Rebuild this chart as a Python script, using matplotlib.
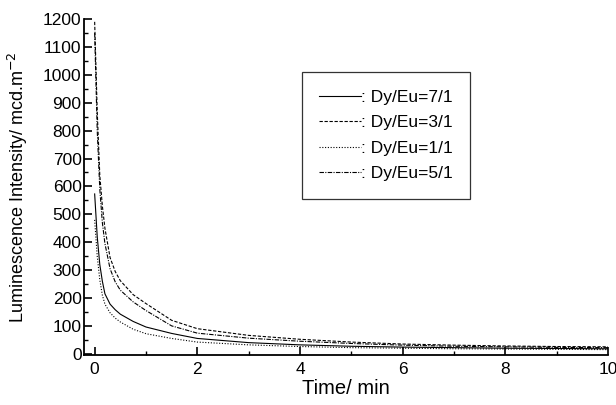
import matplotlib
matplotlib.use('Agg')
import matplotlib.pyplot as plt
from matplotlib.ticker import MultipleLocator

plt.rcParams['font.family'] = ['Liberation Sans', 'DejaVu Sans']

# decay time (min)
time = [0, 0.05, 0.1, 0.15, 0.2, 0.3, 0.4, 0.5, 0.75, 1, 1.5, 2,
        3, 4, 5, 6, 7, 8, 9, 10]

# luminescence intensity (mcd/m2)
dy_eu_7 = [573, 420, 320, 260, 215, 178, 158, 142, 116, 96, 73, 55,
           40, 32, 27, 24, 22, 20, 19, 18]
dy_eu_3 = [1190, 870, 640, 530, 450, 345, 295, 262, 212, 180, 120, 90,
           66, 52, 42, 35, 31, 28, 26, 25]
dy_eu_1 = [480, 350, 265, 210, 178, 147, 128, 114, 88, 72, 55, 42,
           32, 26, 22, 20, 18, 17, 16, 15]
dy_eu_5 = [1150, 800, 590, 470, 395, 305, 258, 228, 186, 155, 100, 74,
           56, 45, 37, 31, 27, 25, 23, 22]

labels = [': Dy/Eu=7/1', ': Dy/Eu=3/1', ': Dy/Eu=1/1', ': Dy/Eu=5/1']

fig = plt.figure(figsize=(6.16, 4.05), dpi=100)
ax = fig.add_axes([0.137, 0.123, 0.85, 0.830])

lw = 0.8
ax.plot(time, dy_eu_7, color='black', lw=lw, ls='-', label=labels[0])
ax.plot(time, dy_eu_3, color='black', lw=lw, ls=(0, (3, 1.5)), label=labels[1])
ax.plot(time, dy_eu_1, color='black', lw=lw, ls=(0, (1, 1.5)), label=labels[2])
ax.plot(time, dy_eu_5, color='black', lw=lw, ls=(0, (4, 1.2, 1, 1.2)), label=labels[3])

ax.set_xlim(-0.2, 10)
ax.set_ylim(-5, 1200)
ax.xaxis.set_major_locator(MultipleLocator(2))
ax.xaxis.set_minor_locator(MultipleLocator(1))
ax.yaxis.set_major_locator(MultipleLocator(100))
ax.yaxis.set_minor_locator(MultipleLocator(50))

ax.spines['top'].set_visible(False)
ax.spines['right'].set_visible(False)
for s in ['left', 'bottom']:
    ax.spines[s].set_linewidth(1.3)
ax.tick_params(which='major', direction='in', length=6, width=1.2,
               labelsize=12.5)
ax.tick_params(axis='x', which='major', pad=5)
ax.tick_params(axis='y', which='major', pad=2)
ax.tick_params(which='minor', direction='in', length=3, width=1.0)

ax.set_xlabel('Time/ min', fontsize=14.5, labelpad=1)
ax.set_ylabel('Luminescence Intensity/ mcd.m$^{-2}$', fontsize=13, labelpad=9)

leg = ax.legend(loc='upper left', bbox_to_anchor=(0.490, 0.822),
                bbox_transform=fig.transFigure, borderaxespad=0,
                fontsize=12.5, handlelength=2.4, handletextpad=0.0,
                labelspacing=0.6, borderpad=1.0, fancybox=False, frameon=True)
leg.get_frame().set_edgecolor('black')
leg.get_frame().set_linewidth(0.9)

plt.savefig('out.png', dpi=100)
